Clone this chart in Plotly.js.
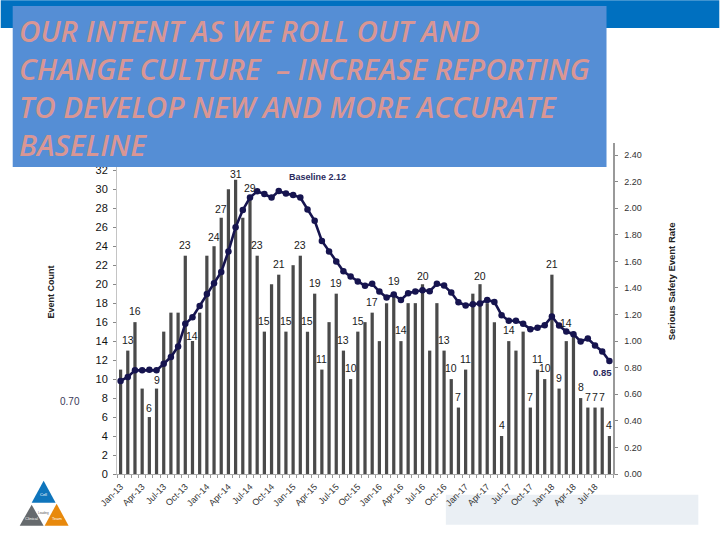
<!DOCTYPE html>
<html><head><meta charset="utf-8">
<script src="https://cdn.plot.ly/plotly-3.0.1.min.js"></script>
<style>html,body{margin:0;padding:0;background:#fff}#c{width:720px;height:540px}</style>
</head><body><div id="c"></div>
<script>
const years = [13,14,15,16,17,18];
const monthNames = ["Jan","Feb","Mar","Apr","May","Jun","Jul","Aug","Sep","Oct","Nov","Dec"];
const months = [];
years.forEach(y => monthNames.forEach(m => months.push(m + "-" + y)));
months.length = 69;

const eventCount = [11,13,16,9,6,9,15,17,17,23,14,17,
  23,24,27,30,31,27,29,23,15,20,21,15,
  22,23,15,19,11,16,19,13,10,15,16,17,
  14,18,19,14,18,18,20,13,18,13,10,7,
  11,19,20,18,16,4,14,13,15,7,11,10,
  21,9,14,15,8,7,7,7,4];
const shownLabels = [null,13,16,null,6,9,null,null,null,23,14,null,
  null,24,27,null,31,null,29,23,15,null,21,15,
  null,23,15,19,11,null,19,13,10,15,null,17,
  null,null,19,14,null,null,20,null,null,13,10,7,
  11,null,20,null,null,4,14,null,null,7,11,10,
  21,9,14,null,8,7,7,7,4];
const safetyRate = [0.70,0.73,0.78,0.78,0.785,0.78,0.83,0.88,0.96,1.13,1.18,1.265,
  1.355,1.435,1.52,1.675,1.857,1.987,2.08,2.127,2.107,2.08,2.13,2.11,
  2.10,2.08,1.99,1.905,1.754,1.675,1.60,1.526,1.486,1.448,1.416,1.431,
  1.373,1.328,1.35,1.31,1.36,1.373,1.383,1.376,1.431,1.418,1.366,1.293,
  1.268,1.278,1.283,1.31,1.295,1.195,1.153,1.153,1.13,1.09,1.10,1.12,
  1.185,1.117,1.072,1.052,0.997,1.02,0.967,0.922,0.85];
const xTickText = months.map((m,i) => i % 3 === 0 && i < 68 ? m : " ");
const leftTicks = [0,2,4,6,8,10,12,14,16,18,20,22,24,26,28,30,32];
const rightTicks = [0,0.2,0.4,0.6,0.8,1.0,1.2,1.4,1.6,1.8,2.0,2.2,2.4];
const bannerLines = ["OUR INTENT AS WE ROLL OUT AND","CHANGE CULTURE  – INCREASE REPORTING","TO DEVELOP NEW AND MORE ACCURATE","BASELINE"];

const L=116.5,R=613.5,T=143,B=474.3;
const W=720,H=540;
const px = x => (x-L)/(R-L);
const py = y => (B-y)/(B-T);
const labelFont = "Liberation Sans, Arial, sans-serif";
const rect = (x0,y0,x1,y1,c,layer) => ({type:"rect",xref:"paper",yref:"paper",layer:layer||"above",x0:px(x0),x1:px(x1),y0:py(y0),y1:py(y1),fillcolor:c,line:{width:0}});
const tri = (a,b,c,col) => ({type:"path",xref:"paper",yref:"paper",layer:"above",fillcolor:col,line:{width:0},
  path:`M${px(a[0])},${py(a[1])} L${px(b[0])},${py(b[1])} L${px(c[0])},${py(c[1])} Z`});
const note = (x,y,text,font,extra) => Object.assign({xref:"paper",yref:"paper",x:px(x),y:py(y),text,showarrow:false,font,xanchor:"center",yanchor:"middle"},extra||{});

const traces = [
 {type:"bar",x:months,y:eventCount,marker:{color:"#4a4a4a"},hoverinfo:"x+y"},
 {type:"scatter",mode:"lines+markers",x:months,y:safetyRate,yaxis:"y2",
  line:{color:"#16144f",width:2.6},marker:{color:"#16144f",size:6.5}}
];

const shapes = [
 rect(0,0,720,28,"#0070c0"),
 rect(446,495,699,525,"#eaeff4","below"),
 rect(12,6,607,167,"#558ed5"),
 tri([43,481],[31,503],[55,503],"#0f75bc"),
 tri([31,505],[19,526],[43,526],"#666a6d"),
 tri([56,504],[44,526],[68,526],"#e8890c")
];

const labelGap = {4:9,5:9,10:5,13:9,14:9,16:6,38:13,42:8,50:8,62:18};
const annotations = shownLabels.map((v,i)=> v===null ? null : ({
  xref:"x",yref:"y",x:months[i],y:eventCount[i],text:String(v),showarrow:false,
  xanchor:"center",yanchor:"middle",yshift:labelGap[i]||11,
  font:{family:labelFont,size:10.5,color:"#1a1a1a"}})).filter(Boolean);

annotations.push(
 note(317,177,"<b>Baseline 2.12</b>",{family:labelFont,size:9,color:"#2b2b5e"}),
 note(69,401.5,"0.70",{family:labelFont,size:10,color:"#3a3a5a"}),
 note(603,373,"<b>0.85</b>",{family:labelFont,size:9.5,color:"#2b2b5e"}),
 note(50,292,"<b>Event Count</b>",{family:labelFont,size:9,color:"#222"},{textangle:-90}),
 note(672,281,"<b>Serious Safety Event Rate</b>",{family:labelFont,size:9.5,color:"#222"},{textangle:-90}),
 note(43,495,"Cell",{family:labelFont,size:4,color:"#fff"}),
 note(31,519,"Clinical",{family:labelFont,size:4,color:"#fff"}),
 note(56,519,"Team",{family:labelFont,size:4,color:"#fff"}),
 note(43,513,"Leading",{family:labelFont,size:3,color:"#555"})
);
bannerLines.forEach((t,i)=>annotations.push(
 note(16,30+i*38.2,t,{family:"Open Sans, sans-serif",size:29.5,color:"#d99694",style:"italic",weight:600},{xanchor:"left"})));

const layout = {
 width:W,height:H,paper_bgcolor:"#fff",plot_bgcolor:"#fff",showlegend:false,
 margin:{l:L,r:W-R,t:T,b:H-B,pad:0},bargap:0.55,
 xaxis:{type:"category",categoryorder:"array",categoryarray:months,range:[-0.5,68.5],tickmode:"array",tickvals:months,ticktext:xTickText,
   tickson:"boundaries",ticks:"outside",ticklen:3,tickcolor:"#999",tickangle:-45,ticklabelstandoff:3,showgrid:false,showline:true,linecolor:"#aaa",linewidth:1,
   tickfont:{family:labelFont,size:9,color:"#333"},automargin:false},
 yaxis:{range:[0,(B-T)/9.5],tickmode:"array",tickvals:leftTicks,ticks:"outside",ticklen:3,tickcolor:"#888",ticklabelstandoff:3,showgrid:false,zeroline:false,
   showline:true,linecolor:"#c4c4c4",linewidth:1,tickfont:{family:labelFont,size:11,color:"#111"},automargin:false},
 yaxis2:{overlaying:"y",side:"right",range:[0,(B-T)/133],tickmode:"array",tickvals:rightTicks,tickformat:".2f",ticks:"outside",ticklen:3,tickcolor:"#888",ticklabelstandoff:5,
   showgrid:false,zeroline:false,showline:true,linecolor:"#999",linewidth:1.5,tickfont:{family:labelFont,size:9,color:"#333"},automargin:false},
 shapes,annotations
};
Plotly.newPlot("c",traces,layout,{displayModeBar:false,staticPlot:true});
</script></body></html>
